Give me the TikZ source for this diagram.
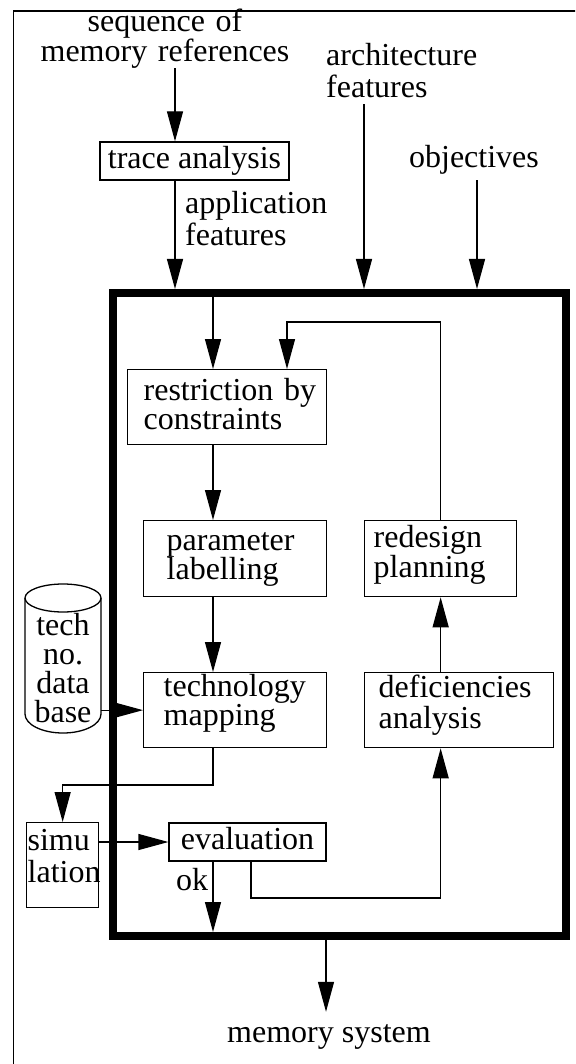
\documentclass[tikz,border=0pt]{standalone}
\usepackage{fontspec}
\setmainfont{Liberation Serif}
\usetikzlibrary{arrows.meta}
\lineskiplimit=-100pt
\newcommand\myfs[1]{\fontsize{32}{#1}\selectfont\lineskiplimit=-100pt\relax\hyphenpenalty=10000\relax}
\newcommand\topst[1]{\rule{0pt}{#1pt}}
\newcommand\botst[1]{\rule[-#1pt]{0pt}{#1pt}}
\begin{document}
\begin{tikzpicture}[x=1pt,y=-1pt,
  ln/.style={line width=1.3pt},
  arr/.style={line width=1.3pt,-{Triangle[length=30pt,width=16pt]}},
  box/.style={draw,line width=1.3pt,anchor=north west,inner ysep=0pt,align=left},
  cbox/.style={draw,line width=1.3pt,inner sep=0pt,text height=22pt,text depth=7pt,font=\myfs{28}},
  txt/.style={inner sep=0pt}]
\useasboundingbox (0,0) rectangle (575,1064);
\clip (0,0) rectangle (575,1064);
% outer thin frame (cut by the picture edge)
\draw[ln] (13.5,1070) -- (13.5,11) -- (580,11);
% thick frame
\node[draw,line width=8pt,minimum width=453pt,minimum height=643pt,inner sep=0pt] (frame) at (339.5,614.5) {};
% column coordinates
\coordinate (cA) at (175,0);
\coordinate (cB) at (364,0);
\coordinate (cC) at (477,0);
\coordinate (cD) at (326,0);
\coordinate (cE) at (213,0);
\coordinate (fb) at (287,322);
\coordinate (bend1) at (213,785);
\coordinate (evb) at (251,898);
% free texts
\node[txt,text width=280pt,align=center,anchor=north,font=\myfs{30}] (seq) at (165,7) {\topst{24}sequence of\\memory references};
\node[txt,text width=160pt,align=left,anchor=north west,font=\myfs{32}] (arch) at (326,41) {\topst{24}architecture\\features\botst{7}};
\node[txt,text width=180pt,align=left,anchor=north west,font=\myfs{32}] (app) at (185,189) {\topst{24}application\\features};
\node[txt,font=\myfs{32},text depth=12pt,anchor=base] (obj) at (474,168) {objectives};
\node[txt,font=\myfs{32},anchor=base west] (ok) at (176,890) {ok};
\node[txt,font=\myfs{32},text height=30pt,anchor=base] (mem) at (329,1042) {memory system};
% boxes
\node[cbox,minimum width=189pt,minimum height=38pt] (trace) at (194.5,161) {trace analysis};
\node[box,text width=167pt,inner xsep=16pt,font=\myfs{29}] (restr) at (127,369) {\topst{31}\mbox{restriction by}\\constraints\botst{15}};
\node[box,text width=137pt,inner xsep=23pt,font=\myfs{29}] (param) at (143,520) {\topst{30}parameter\\labelling\botst{17}};
\node[box,text width=134pt,inner xsep=9pt,font=\myfs{30}] (redes) at (364,520) {\topst{27}redesign\\planning\botst{19}};
\node[box,text width=143pt,inner xsep=20pt,font=\myfs{29}] (tech) at (143,672) {\topst{24}technology\\mapping\botst{22}};
\node[box,text width=161pt,inner xsep=14pt,font=\myfs{31}] (defic) at (364,672) {\topst{25}deficiencies\\analysis\botst{19}};
\node[cbox,minimum width=157pt,minimum height=38pt] (eval) at (247.5,842) {evaluation};
\node[box,text width=70pt,inner xsep=1pt,font=\myfs{32}] (sim) at (26,822) {\topst{28}simu\\lation\botst{25}};
% data base cylinder
\draw[ln] (25,598) -- (25,714) arc[start angle=180,end angle=360,x radius=38pt,y radius=19pt] -- (101,598);
\draw[ln] (63,598) ellipse [x radius=38pt,y radius=14pt];
\node[txt,text width=76pt,align=center,anchor=north,font=\myfs{29}] (db) at (63,611) {\topst{24}tech\\no.\\data\\base};
% connectors
\draw[arr] (seq.south -| cA) -- (trace.north -| cA);
\draw[arr] (trace.south -| cA) -- (frame.north -| cA);
\draw[arr] (arch.south -| cB) -- (frame.north -| cB);
\draw[arr] (obj.south -| cC) -- (frame.north -| cC);
\draw[arr] (frame.north -| cE) -- (restr.north -| cE);
\draw[arr] (redes.north) |- (fb) -- (restr.north -| fb);
\draw[arr] (restr.south -| cE) -- (param.north -| cE);
\draw[arr] (param.south -| cE) -- (tech.north -| cE);
\draw[arr] (db.east |- tech.west) -- (tech.west);
\draw[arr] (tech.south -| cE) -- (bend1) -| (sim.north);
\draw[arr] (sim.east |- eval.west) -- (eval.west);
\draw[arr] (eval.south -| cE) -- ([yshift=8pt]frame.south -| cE);
\draw[arr] (eval.south -| evb) -- (evb) -| (defic.south -| redes.south);
\draw[arr] (defic.north -| redes.south) -- (redes.south);
\draw[arr] (frame.south -| cD) -- (mem.north -| cD);
\end{tikzpicture}
\end{document}
